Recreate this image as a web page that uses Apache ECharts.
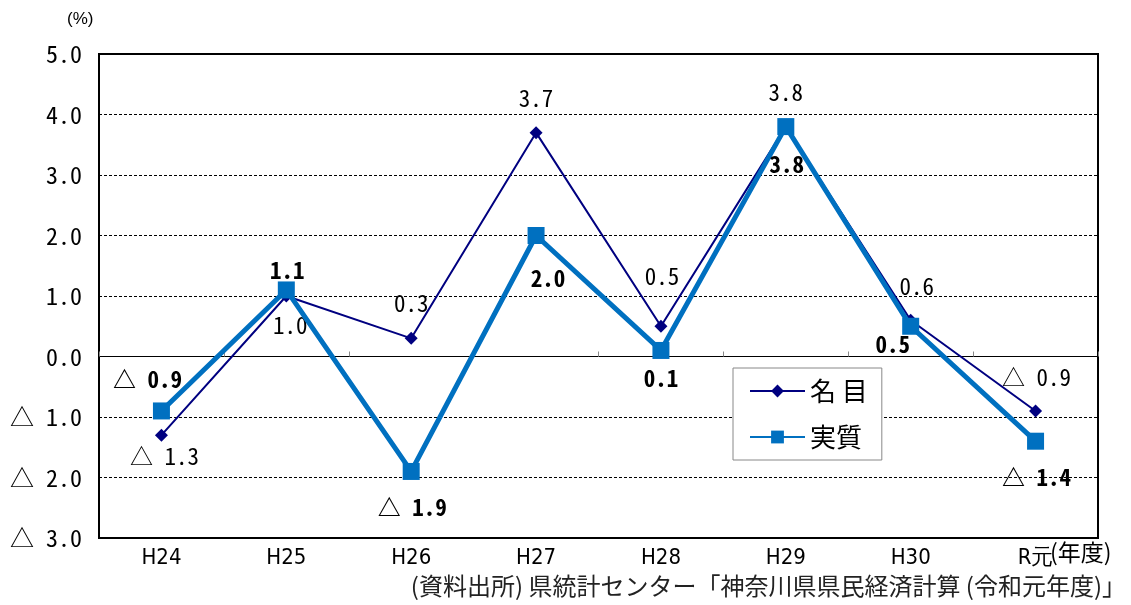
<!DOCTYPE html>
<html>
<head>
<meta charset="utf-8">
<script src="https://cdn.jsdelivr.net/npm/echarts@6/dist/echarts.min.js"></script>
<style>
html,body{margin:0;padding:0;background:#fff;}
#chart{width:1131px;height:605px;}
</style>
</head>
<body>
<div id="chart"></div>
<script>
// ---- data ----
const categories = ['H24', 'H25', 'H26', 'H27', 'H28', 'H29', 'H30', 'R元'];
const nominal = [-1.3, 1.0, 0.3, 3.7, 0.5, 3.8, 0.6, -0.9];   // 名目
const real    = [-0.9, 1.1, -1.9, 2.0, 0.1, 3.8, 0.5, -1.4];  // 実質
const yTicks = [-3, -2, -1, 0, 1, 2, 3, 4, 5];

// label placement (style only)
const nominalLabelOffsets = [[3, 21], [4, 29], [0, -35], [0, -34], [1, -50], [0, -34], [6, -34], [1, -34]];
const realLabelOffsets    = [[-14, -32], [1, -20], [1, 36], [12, 43], [0, 28], [1, 38], [-18, 18], [1, 36]];

const numFont = "'Noto Sans Mono CJK JP','DejaVu Sans Mono',monospace";

function fmt(v) {
  const s = Math.abs(v).toFixed(1);
  return v < 0 ? '△ ' + s : s;
}

function buildData(values, offsets) {
  return values.map((v, i) => ({
    value: v,
    label: { position: 'inside', offset: offsets[i] }
  }));
}

const chart = echarts.init(document.getElementById('chart'));
chart.setOption({
  animation: false,
  backgroundColor: '#fff',
  grid: { left: 99, right: 33, top: 54, bottom: 67, show: true, borderColor: '#000', borderWidth: 2, backgroundColor: 'transparent' },
  legend: {
    left: 733, top: 368, orient: 'vertical',
    padding: [10, 14, 10, 16],
    itemWidth: 55, itemHeight: 16, itemGap: 20,
    borderColor: '#888', borderWidth: 1, backgroundColor: '#fff',
    textStyle: { fontSize: 26, color: '#000', fontFamily: "'Noto Sans CJK JP'" },
    formatter: n => n === '名目' ? '名 目' : n,
    data: ['名目', '実質']
  },
  xAxis: [
    {
      type: 'category', data: categories, position: 'bottom',
      axisLine: { show: false, onZero: false }, axisTick: { show: false },
      axisLabel: { fontSize: 22, color: '#000', margin: 9, fontFamily: "'Liberation Sans Narrow','DejaVu Sans Condensed',sans-serif" },
      splitLine: { show: false }
    },
    {
      type: 'category', data: categories, position: 'bottom',
      axisLine: { show: true, onZero: true, lineStyle: { color: '#000', width: 1 } },
      axisTick: { show: true, inside: true, length: 5, lineStyle: { color: '#888' } },
      axisLabel: { show: false }, splitLine: { show: false }
    }
  ],
  yAxis: {
    type: 'value', min: -3, max: 5, interval: 1,
    axisLine: { show: false }, axisTick: { show: false },
    axisLabel: { fontSize: 24, color: '#000', margin: 17, fontFamily: numFont, formatter: v => fmt(v) },
    splitLine: { show: true, lineStyle: { color: '#000', type: [3, 2], width: 1 } }
  },
  graphic: [
    { type: 'text', left: 67, top: 11, style: { text: '(%)', fontSize: 17, fill: '#000', fontFamily: "'Liberation Sans Narrow',sans-serif" } },
    { type: 'text', left: 1050, top: 541, style: { text: '(年度)', fontSize: 23, fill: '#000', fontFamily: "'Noto Sans CJK JP'" } },
    { type: 'text', right: 5, top: 574, style: { text: '(資料出所) 県統計センター「神奈川県県民経済計算 (令和元年度)」', fontSize: 24, fill: '#222', fontFamily: "'Noto Sans CJK JP'" } }
  ],
  series: [
    {
      name: '名目', type: 'line', xAxisIndex: 0, z: 3,
      data: buildData(nominal, nominalLabelOffsets),
      symbol: 'diamond', symbolSize: 13,
      lineStyle: { color: '#000080', width: 2 },
      itemStyle: { color: '#000080' },
      label: { show: true, fontSize: 23, color: '#000', fontFamily: numFont, formatter: p => fmt(p.value) }
    },
    {
      name: '実質', type: 'line', xAxisIndex: 0, z: 4,
      data: buildData(real, realLabelOffsets),
      symbol: 'rect', symbolSize: 17,
      lineStyle: { color: '#0070C0', width: 5 },
      itemStyle: { color: '#0070C0' },
      label: { show: true, fontSize: 23, fontWeight: 'bold', color: '#000', fontFamily: numFont, formatter: p => fmt(p.value) }
    }
  ]
});
</script>
</body>
</html>
